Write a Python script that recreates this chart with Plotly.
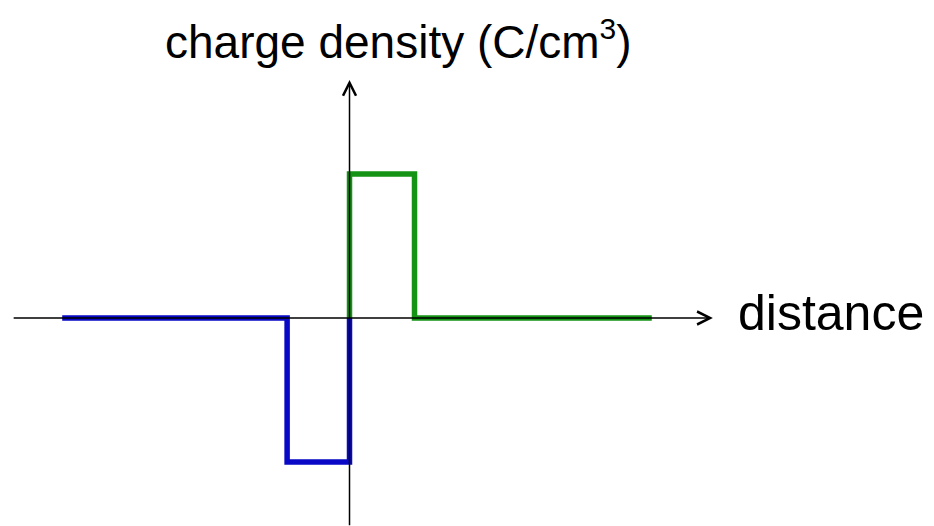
import plotly.graph_objects as go

# Charge density profile across a p-n junction (step approximation)
p_side_x = [-4.42, -0.96, 0.0]          # p-side: neutral region, depletion edge, junction
p_side_rho = [0.0, -1.0, 0.0]           # normalised charge density (negative acceptor ions)
n_side_x = [0.0, 0.0, 1.0, 4.65]        # n-side: junction, depletion edge, neutral end
n_side_rho = [0.0, 1.0, 0.0, 0.0]       # normalised charge density (positive donor ions)

y_label = "charge density (C/cm<sup><span style='font-size:30px'>3</span></sup>)"
x_label = "distance"

# axis extents (data units) for the hand-drawn axes
x_axis_from, x_axis_to = -5.19, 5.59
y_axis_from, y_axis_to = -1.45, 1.653

W, H = 934, 526
x_range = [-5.377, 8.992]
y_range = [-1.444, 2.208]

fig = go.Figure()

fig.add_trace(go.Scatter(
    x=p_side_x, y=p_side_rho, mode="lines", line_shape="hv",
    line=dict(color="#0808C6", width=5.5), hoverinfo="skip", showlegend=False,
))
fig.add_trace(go.Scatter(
    x=n_side_x, y=n_side_rho, mode="lines", line_shape="hv",
    line=dict(color="#159315", width=5.5), hoverinfo="skip", showlegend=False,
))

# axes with arrowheads
fig.add_annotation(x=x_axis_to, y=0, ax=x_axis_from, ay=0, axref="x", ayref="y",
                   xref="x", yref="y", text="", showarrow=True,
                   arrowhead=5, arrowsize=1.7, arrowwidth=1.5, arrowcolor="black")
fig.add_annotation(x=0, y=y_axis_to, ax=0, ay=y_axis_from, axref="x", ayref="y",
                   xref="x", yref="y", text="", showarrow=True,
                   arrowhead=5, arrowsize=1.7, arrowwidth=1.5, arrowcolor="black")

fig.add_annotation(x=398 / W, y=1 - 40 / H, xref="paper", yref="paper",
                   text=y_label, showarrow=False, xanchor="center", yanchor="middle",
                   font=dict(family="Liberation Sans, Arial, sans-serif", size=46, color="black"))
fig.add_annotation(x=736 / W, y=1 - 313 / H, xref="paper", yref="paper",
                   text=x_label, showarrow=False, xanchor="left", yanchor="middle",
                   font=dict(family="Liberation Sans, Arial, sans-serif", size=50, color="black"))

fig.update_layout(
    width=W, height=H,
    margin=dict(l=0, r=0, t=0, b=0),
    paper_bgcolor="white", plot_bgcolor="white",
    xaxis=dict(range=x_range, visible=False, fixedrange=True),
    yaxis=dict(range=y_range, visible=False, fixedrange=True),
)

fig.write_html("out.html", config={"displayModeBar": False},
               post_script="document.body.style.margin='0';document.body.style.overflow='hidden';")
